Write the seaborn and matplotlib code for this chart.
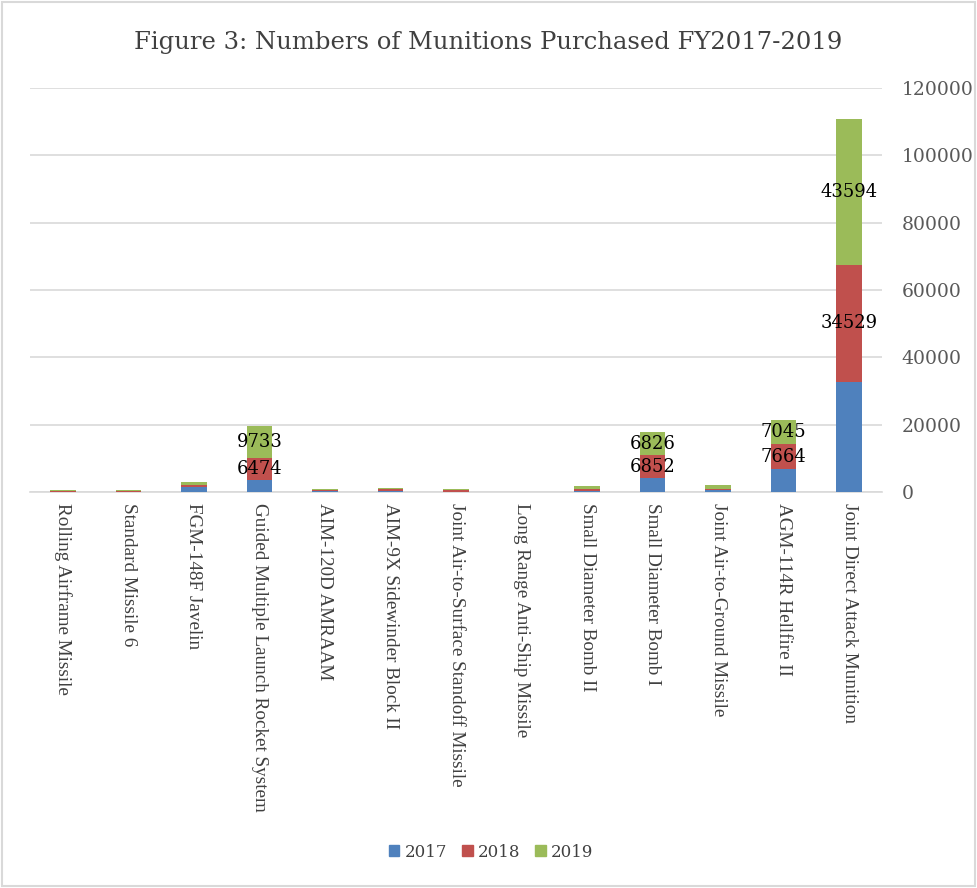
import numpy as np
import pandas as pd
import seaborn as sns
import matplotlib.pyplot as plt
from matplotlib.patches import Rectangle, Patch

# Munitions purchased per fiscal year
munitions = [
    "Rolling Airframe Missile",
    "Standard Missile 6",
    "FGM-148F Javelin",
    "Guided Multiple Launch Rocket System",
    "AIM-120D AMRAAM",
    "AIM-9X Sidewinder Block II",
    "Joint Air-to-Surface Standoff Missile",
    "Long Range Anti-Ship Missile",
    "Small Diameter Bomb II",
    "Small Diameter Bomb I",
    "Joint Air-to-Ground Missile",
    "AGM-114R Hellfire II",
    "Joint Direct Attack Munition",
]
fy2017 = [120, 125, 1570, 3500, 200, 250, 100, 15, 200, 4100, 500, 6700, 32800]
fy2018 = [120, 125, 490, 6474, 350, 500, 350, 25, 700, 6852, 400, 7664, 34529]
fy2019 = [240, 350, 880, 9733, 350, 450, 400, 40, 850, 6826, 1100, 7045, 43594]
# only these segments carry a data label in the original
labelled_2018 = [3, 9, 11, 12]
labelled_2019 = [3, 9, 11, 12]

colors = {"2017": "#4f81bd", "2018": "#c0504d", "2019": "#9bbb59"}

df = pd.DataFrame({"munition": munitions, "2017": fy2017, "2018": fy2018, "2019": fy2019})
df["cum2018"] = df["2017"] + df["2018"]
df["cum2019"] = df["cum2018"] + df["2019"]

sns.set_theme(style="white")
plt.rcParams["font.family"] = ["DejaVu Serif"]

fig = plt.figure(figsize=(9.77, 8.88), dpi=100)
ax = fig.add_axes([30 / 977, 1 - 492 / 888, (882 - 30) / 977, (492 - 88) / 888])

# stacked bars: draw the cumulative totals back to front
for col, key, z in [("cum2019", "2019", 2), ("cum2018", "2018", 3), ("2017", "2017", 4)]:
    sns.barplot(data=df, x="munition", y=col, color=colors[key], width=0.39,
                saturation=1, linewidth=0, ax=ax, zorder=z)

for i in labelled_2018:
    y = df.loc[i, "2017"] + df.loc[i, "2018"] / 2
    ax.text(i, y, str(df.loc[i, "2018"]), ha="center", va="center", fontsize=13,
            color="black", zorder=5)
for i in labelled_2019:
    y = df.loc[i, "cum2018"] + df.loc[i, "2019"] / 2
    ax.text(i, y, str(df.loc[i, "2019"]), ha="center", va="center", fontsize=13,
            color="black", zorder=5)

ax.set_ylim(0, 120000)
ax.set_yticks(np.arange(0, 120001, 20000))
ax.yaxis.tick_right()
ax.grid(axis="y", color="#d9d9d9", linewidth=1.2, zorder=0)
ax.set_axisbelow(True)
for side in ["top", "left", "right"]:
    ax.spines[side].set_visible(False)
ax.spines["bottom"].set_color("#d9d9d9")
ax.spines["bottom"].set_linewidth(1.2)
ax.tick_params(axis="y", length=0, pad=14, labelsize=13.5, labelcolor="#595959")
ax.tick_params(axis="x", length=0, pad=8)
ax.set_xticks(range(len(munitions)))
ax.set_xticklabels(munitions, rotation=270, ha="center", va="top",
                   fontsize=13.8, color="#404040", family="Liberation Serif")
ax.set_xlabel("")
ax.set_ylabel("")

fig.text(488 / 977, 1 - 42 / 888, "Figure 3: Numbers of Munitions Purchased FY2017-2019",
         ha="center", va="center", fontsize=17.5, color="#404040")

handles = [Patch(color=colors[k], label=k) for k in ["2017", "2018", "2019"]]
fig.legend(handles=handles, loc="center", bbox_to_anchor=(491 / 977, 1 - 852 / 888),
           ncol=3, frameon=False, fontsize=12, handlelength=0.65, handleheight=0.65,
           handletextpad=0.3, columnspacing=0.9, labelcolor="#404040")

fig.patches.append(Rectangle((0.002, 0.002), 0.996, 0.996, transform=fig.transFigure,
                             fill=False, edgecolor="#d9d9d9", linewidth=1.5))

fig.savefig("out.png", dpi=100)
